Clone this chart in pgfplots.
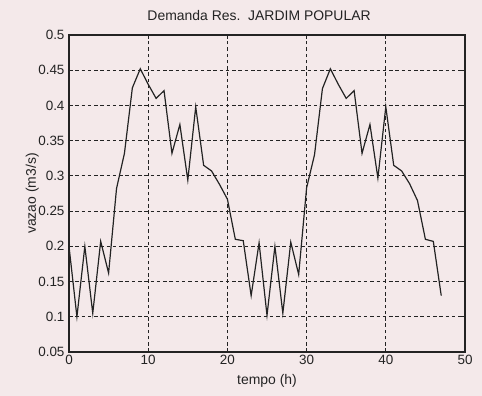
\documentclass[border=0pt]{standalone}
\usepackage{fontspec}
\setmainfont{Liberation Sans}
\usepackage{pgfplots}
\pgfplotsset{compat=1.18}
\definecolor{bg}{RGB}{244,233,234}
\definecolor{ink}{RGB}{35,35,35}
\begin{document}
\begin{tikzpicture}
\fill[bg] (-69bp,-44bp) rectangle (413bp,352bp);
\begin{axis}[
  at={(0,0)}, anchor=south west,
  scale only axis, width=396bp, height=317bp,
  xmin=0, xmax=50, ymin=0.05, ymax=0.5,
  xtick={0,10,20,30,40,50},
  ytick={0.05,0.1,0.15,0.2,0.25,0.3,0.35,0.4,0.45,0.5},
  yticklabels={0.05,0.1,0.15,0.2,0.25,0.3,0.35,0.4,0.45,0.5},
  xticklabels={0,10,20,30,40,50},
  grid=major,
  major grid style={ink, line width=1.1pt, dash pattern=on 3.5pt off 2.8pt},
  axis line style={ink, line width=1.2pt},
  tick style={ink, line width=0.8pt},
  major tick length=4bp,
  tick align=inside,
  ticklabel style={font=\fontsize{13.5}{15}\selectfont, text=ink},
  yticklabel style={xshift=-1bp},
  /pgf/number format/assume math mode=true,
  title={Demanda Res.\ \ JARDIM POPULAR},
  title style={font=\fontsize{14}{16}\selectfont, text=ink, at={(axis description cs:0.48,1.044)}, anchor=center},
  xlabel={tempo (h)}, ylabel={vazao (m3/s)},
  label style={font=\fontsize{14}{16}\selectfont, text=ink},
  xlabel style={at={(axis description cs:0.5,-0.0915)}, anchor=center},
  ylabel style={at={(axis description cs:-0.093,0.5)}, anchor=center},
]
\addplot[ink, line width=1.2pt] coordinates {
(0,0.200) (1,0.100) (2,0.200) (3,0.105) (4,0.207) (5,0.162)
(6,0.282) (7,0.332) (8,0.425) (9,0.452) (10,0.430) (11,0.410)
(12,0.421) (13,0.332) (14,0.373) (15,0.294) (16,0.398) (17,0.315)
(18,0.307) (19,0.288) (20,0.267) (21,0.210) (22,0.208) (23,0.130)
(24,0.205) (25,0.102) (26,0.200) (27,0.105) (28,0.206) (29,0.160)
(30,0.283) (31,0.330) (32,0.424) (33,0.452) (34,0.430) (35,0.410)
(36,0.421) (37,0.332) (38,0.373) (39,0.297) (40,0.398) (41,0.315)
(42,0.307) (43,0.289) (44,0.265) (45,0.210) (46,0.207) (47,0.130)
};
\end{axis}
\end{tikzpicture}
\end{document}
